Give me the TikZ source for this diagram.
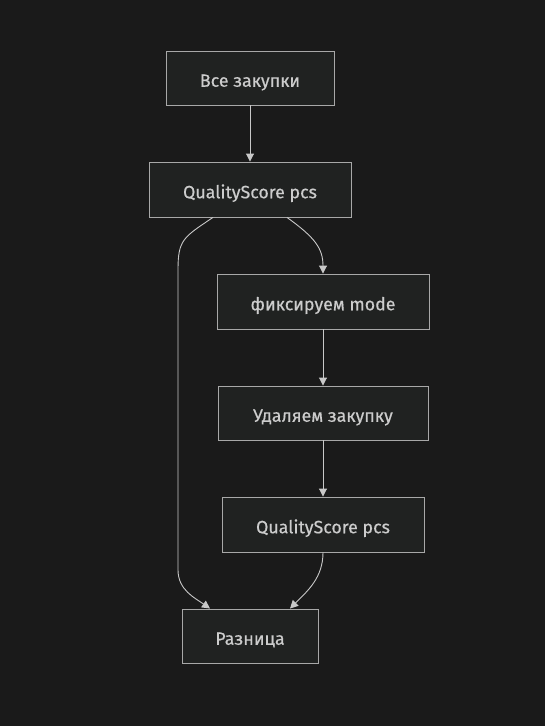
\documentclass[tikz,border=0pt]{standalone}
\usepackage{fontspec}
\setmainfont{Fira Sans}[FakeBold=0.5]
\usetikzlibrary{arrows.meta}
\definecolor{bg}{HTML}{1A1A1A}
\definecolor{nodefill}{HTML}{202221}
\definecolor{nodeborder}{HTML}{A8A8A8}
\definecolor{txt}{HTML}{CCCCCC}
\definecolor{edge}{HTML}{C8C8C8}
\tikzset{
  box/.style={draw=nodeborder, fill=nodefill, line width=0.9pt, text=txt, font=\fontsize{17.8}{20}\selectfont, inner sep=0pt, text height=17.5pt, text depth=0pt, anchor=center},
  conn/.style={draw=edge, line width=0.9pt, -{Triangle[length=8pt,width=8pt]}}
}
\begin{document}
\begin{tikzpicture}[x=1pt,y=-1pt]
\fill[bg] (0,0) rectangle (545,726);
\useasboundingbox (0,0) rectangle (545,726);
\node[box, minimum width=168pt, minimum height=54pt] (n1) at (250,78) {Все закупки};
\node[box, minimum width=202pt, minimum height=55pt] (n2) at (250,189.5) {QualityScore pcs};
\node[box, minimum width=212pt, minimum height=55pt] (n3) at (323,301.5) {фиксируем mode};
\node[box, minimum width=210pt, minimum height=54pt] (n4) at (323,413) {Удаляем закупку};
\node[box, minimum width=202pt, minimum height=55pt] (n5) at (323,524.5) {QualityScore pcs};
\node[box, minimum width=136pt, minimum height=54pt] (n6) at (250,636) {Разница};
\draw[conn] (n1.south) -- (n2.north);
\draw[conn] ([xshift=37pt]n2.south) .. controls +(28,20) and +(0,-25) .. (n3.north);
\draw[conn] (n3.south) -- (n4.north);
\draw[conn] (n4.south) -- (n5.north);
\draw[conn] ([xshift=-37pt]n2.south) .. controls +(-30,20) and +(0,-30) .. (178,270) -- (178,570) .. controls (178,590) and (195,598) .. ([xshift=-40pt]n6.north);
\draw[conn] (n5.south) .. controls +(0,25) and +(18,-18) .. ([xshift=40pt]n6.north);
\end{tikzpicture}
\end{document}
